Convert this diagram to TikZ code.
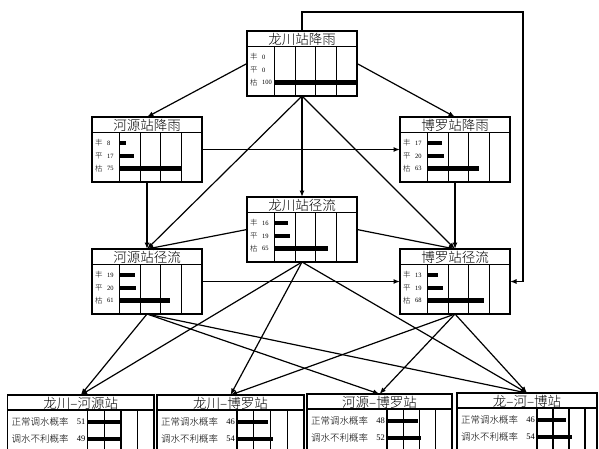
\documentclass[tikz,border=0pt]{standalone}
\usepackage{fontspec}
\setmainfont{Liberation Serif}
\newfontfamily\cjk{Noto Sans CJK SC Light}
\usetikzlibrary{arrows.meta,calc}

\tikzset{
  netbox/.style={draw, line width=1.5pt, inner sep=0pt, outer sep=0pt,
    minimum width=110pt, minimum height=65pt, anchor=north west},
  gridline/.style={line width=1.2pt},
  beliefbar/.style={line width=4.5pt},
  link/.style={line width=1.2pt, -{Latex[length=6.5pt,width=5pt]}},
  titletext/.style={font=\cjk\fontsize{13.5}{14}\selectfont, inner sep=0pt},
  statetext/.style={font=\cjk\fontsize{7.5}{8}\selectfont, inner sep=0pt, anchor=west},
  numtext/.style={font=\fontsize{6.5}{7}\selectfont, inner sep=0pt, anchor=west},
  rowtext/.style={font=\cjk\fontsize{9.5}{10}\selectfont, inner sep=0pt, anchor=west},
  rownum/.style={font=\fontsize{8.5}{9}\selectfont, inner sep=0pt, anchor=east},
}

% #1 name, #2 left, #3 top, #4 title, #5-#7 belief values (percent)
\newcommand\threestate[7]{%
  \node[netbox] (#1) at (#2,#3) {};
  \draw[gridline] ({#2},{#3+15.5}) -- ++(110,0);
  \foreach \k in {0,...,3}{\draw[gridline] ({#2+27.5+\k*20.625},{#3+15.5}) -- ++(0,49.5);}
  \node[titletext] (#1-t) at ({#2+55},{#3+8}) {#4};
  \foreach \lab/\val/\dy [count=\i] in {丰/#5/26,平/#6/39,枯/#7/51.5}{
    \node[statetext] (#1-s\i) at ({#2+3},{#3+\dy}) {\lab};
    \node[numtext] (#1-n\i) at ({#2+15},{#3+\dy}) {\val};
    \draw[beliefbar] ({#2+27.5},{#3+\dy}) -- ++({0.825*\val},0);
  }
}

% #1 name, #2 left, #3 top, #4 width, #5 bar span, #6 title, #7-#8 values
\newcommand\twostate[8]{%
  \node[netbox, minimum width=#4pt, minimum height=70pt] (#1) at (#2,#3) {};
  \draw[gridline] ({#2},{#3+15}) -- ++(#4,0);
  \foreach \k in {0,...,3}{\draw[gridline] ({#2+80+\k*#5/4},{#3+15}) -- ++(0,60);}
  \node[titletext] (#1-t) at ({#2+#4/2},{#3+8}) {#6};
  \foreach \lab/\val/\dy [count=\i] in {正常调水概率/#7/27,调水不利概率/#8/44}{
    \node[rowtext] (#1-s\i) at ({#2+4},{#3+\dy}) {\lab};
    \node[rownum] (#1-n\i) at ({#2+78},{#3+\dy}) {\val};
    \draw[beliefbar] ({#2+80},{#3+\dy}) -- ++({#5*\val/100},0);
  }
}

\begin{document}
\begin{tikzpicture}[x=1pt,y=-1pt]
\useasboundingbox (0,0) rectangle (599,448);
\clip (0,0) rectangle (599,448);
\fill[white] (0,0) rectangle (599,448);

% rainfall and runoff nodes
\threestate{A}{247}{31}{龙川站降雨}{0}{0}{100}
\threestate{B}{92}{117}{河源站降雨}{8}{17}{75}
\threestate{C}{400}{117}{博罗站降雨}{17}{20}{63}
\threestate{D}{247}{197}{龙川站径流}{16}{19}{65}
\threestate{E}{92}{249}{河源站径流}{19}{20}{61}
\threestate{F}{400}{249}{博罗站径流}{13}{19}{68}

% water transfer nodes
\twostate{G}{7.5}{395}{146.5}{67}{龙川–河源站}{51}{49}
\twostate{H}{157}{395}{147}{67}{龙川–博罗站}{46}{54}
\twostate{I}{307}{394}{145}{65}{河源–博罗站}{48}{52}
\twostate{J}{457}{393}{140}{64}{龙–河–博站}{46}{54}

% dependencies
\draw[link] (A.west) -- (B.north);
\draw[link] (A.east) -- (C.north);
\draw[link] (A.south) -- (D.north);
\draw[link] (A.south) -- (E.north);
\draw[link] (A.south) -- (F.north);
\draw[link] (B.east) -- (C.west);
\draw[link] (B.south) -- (E.north);
\draw[link] (C.south) -- (F.north);
\draw[link] (D.west) -- (E.north);
\draw[link] (D.east) -- (F.north);
\draw[link] (E.east) -- (F.west);
\coordinate (loopcorner) at (523,12);
\draw[link] (A.north) |- (loopcorner) |- (F.east);

\draw[link] (D.south) -- (G.north);
\draw[link] (D.south) -- (H.north);
\draw[link] (D.south) -- (J.north);
\draw[link] (E.south) -- (G.north);
\draw[link] (E.south) -- (I.north);
\draw[link] (E.south) -- (J.north);
\draw[link] (F.south) -- (H.north);
\draw[link] (F.south) -- (I.north);
\draw[link] (F.south) -- (J.north);
\end{tikzpicture}
\end{document}
